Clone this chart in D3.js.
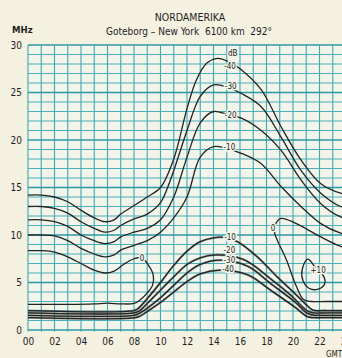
<!DOCTYPE html>
<html>
<head>
<meta charset="utf-8">
<script src="https://cdn.jsdelivr.net/npm/d3@7"></script>
<style>
  body { margin: 0; background: #f5f1e1; }
  svg { display: block; }
  text { font-family: "DejaVu Sans Condensed", "DejaVu Sans", sans-serif; fill: #1e1e1e; }
</style>
</head>
<body>
<script>
//Width and height
var w = 342;
var h = 358;

// tick labels
var hourTicks = [0, 2, 4, 6, 8, 10, 12, 14, 16, 18, 20, 22, 24];
var mhzTicks = [0, 5, 10, 15, 20, 25, 30];

// upper contours (dB), [hour GMT, MHz]
var upper40 = [[0,14.2],[1,14.2],[2,14.0],[3,13.5],[4,12.6],[5,11.8],[5.8,11.4],[6.5,11.6],[7,12.2],[8,13.1],[9,14.0],[10,15.0],[11,18.0],[12,23.3],[12.7,26.3],[13.5,28.1],[14.3,28.6],[15.2,28.2],[16.1,27.4],[17.6,25.3],[19.1,21.4],[20.6,17.9],[22.1,15.4],[23.6,14.4],[24.5,14.2]];
var upper30 = [[0,13.0],[1,13.0],[2,12.8],[3,12.3],[4,11.4],[5,10.7],[5.8,10.3],[6.5,10.5],[7,11.0],[8,11.7],[9,12.2],[10,13.4],[10.75,15.8],[11.5,18.9],[12,21.0],[13,24.6],[14,25.8],[15,25.6],[16.1,24.9],[17.6,23.5],[19.1,20.3],[20.6,16.8],[22.1,14.4],[23.6,13.0],[24.5,12.8]];
var upper20 = [[0,11.6],[1,11.6],[2,11.4],[3,10.9],[4,10.0],[5,9.4],[5.8,9.1],[6.5,9.3],[7,9.8],[8,10.3],[9,10.7],[10,11.6],[11,14.0],[12,18.2],[13,21.8],[14,23.0],[15,22.7],[16.1,22.3],[17.6,21.0],[19.1,18.9],[20.6,15.8],[22.1,13.3],[23.6,11.9],[24.5,11.6]];
var upper10 = [[0,10.0],[1,10.0],[2,9.9],[3,9.4],[4,8.6],[5,8.0],[5.8,7.7],[6.5,7.9],[7,8.4],[8,8.9],[9,9.4],[10,10.3],[11,11.8],[12,14.0],[13,18.2],[14,19.3],[15,19.1],[16.1,18.6],[17.6,17.5],[19.1,15.1],[20.6,13.0],[22.1,11.2],[23.6,10.2],[24.5,10.0]];

// 0 dB contours (night side) and the +10 dB island
var zeroLeft = [[0,8.35],[1,8.35],[2,8.2],[3,7.7],[4,7.0],[5,6.3],[5.8,6.0],[6.5,6.2],[7.2,6.9],[8,7.5],[8.6,7.6],[9.1,6.8],[9.45,5.8],[9.4,4.7],[9.0,3.9],[8.5,3.2],[8.0,2.8],[7,2.75],[6,2.82],[5,2.75],[3,2.7],[0,2.7]];
var zeroRight = [[24.5,8.6],[23.6,8.8],[22.1,9.8],[20.1,11.3],[19.1,11.75],[18.7,11.2],[18.6,10.3],[18.8,9.5],[19.5,7.4],[20.25,4.6],[20.8,3.2],[21.4,3.0],[22.5,3.0],[24.5,3.0]];
var plus10 = [[21.1,7.45],[20.7,6.4],[20.75,5.2],[21.2,4.4],[21.9,4.3],[22.4,4.9],[22.3,5.7],[21.7,6.6]];

// lower contours (dB)
var lower10 = [[0,2.05],[8.0,2.05],[8.3,2.25],[9,3.3],[10,5.0],[11,6.8],[12,8.3],[13,9.3],[14,9.7],[14.8,9.75],[15.8,9.3],[17.3,7.7],[18.8,5.6],[20.1,3.9],[20.9,2.8],[21.5,2.1],[22.5,2.05],[24.5,2.05]];
var lower20 = [[0,1.8],[8.0,1.8],[8.4,2.0],[9,2.8],[10,4.2],[11,5.6],[12,6.9],[13,7.6],[14.2,7.9],[16.3,7.4],[18.3,5.4],[19.8,3.7],[21.1,2.0],[21.6,1.8],[22.5,1.8],[24.5,1.8]];
var lower30 = [[0,1.55],[8.0,1.55],[8.4,1.75],[9,2.3],[10,3.4],[11,4.7],[12,6.0],[13,6.9],[14.5,7.35],[16.6,6.7],[18.3,4.9],[20.1,3.0],[21.1,1.75],[21.6,1.55],[22.5,1.55],[24.5,1.55]];
var lower40 = [[0,1.3],[8.1,1.3],[8.5,1.5],[9,1.95],[10,2.9],[11,4.0],[12,5.1],[13,5.9],[14.5,6.3],[16.6,5.8],[18.3,4.2],[20.1,2.45],[21.1,1.4],[21.6,1.3],[22.5,1.3],[24.5,1.3]];

var contours = [upper40, upper30, upper20, upper10, zeroLeft, zeroRight, lower10, lower20, lower30, lower40];
var bandLines = [lower10, lower20, lower30, lower40];

// contour labels, [text, hour, MHz]
var contourLabels = [["dB",15.45,29.1],["-40",15.25,27.8],["-30",15.3,25.7],["-20",15.3,22.6],["-10",15.2,19.2],
                     ["-10",15.25,9.75],["-20",15.2,8.4],["-30",15.2,7.4],["-40",15.1,6.4],
                     ["0",8.6,7.6],["0",18.5,10.7],["+10",21.9,6.3]];

var x = d3.scaleLinear().domain([0, 24]).range([28, 346]);
var y = d3.scaleLinear().domain([0, 30]).range([330, 45]);

var svg = d3.select("body")
            .append("svg")
            .attr("width", w)
            .attr("height", h);

svg.append("rect").attr("width", w).attr("height", h).attr("fill", "#f5f1e1");
svg.append("rect")
   .attr("x", x(0)).attr("y", y(30))
   .attr("width", x(24) - x(0)).attr("height", y(0) - y(30))
   .attr("fill", "#f3f4ea");

//Grid
var grid = svg.append("g");
grid.selectAll("line.v")
    .data(d3.range(0, 25))
    .enter()
    .append("line")
    .attr("class", "v")
    .attr("x1", function(d) { return x(d); })
    .attr("x2", function(d) { return x(d); })
    .attr("y1", y(30))
    .attr("y2", y(0) + 1.5)
    .attr("stroke", "#3fa7b2")
    .attr("stroke-width", 1.1);
grid.selectAll("line.hz")
    .data(d3.range(0, 31))
    .enter()
    .append("line")
    .attr("class", "hz")
    .attr("x1", x(0))
    .attr("x2", x(24))
    .attr("y1", function(d) { return y(d); })
    .attr("y2", function(d) { return y(d); })
    .attr("stroke", function(d) { return d % 5 == 0 ? "#2c98a4" : "#4aafb9"; })
    .attr("stroke-width", function(d) { return d % 5 == 0 ? 1.5 : 1; });

//Axes
var xAxis = d3.axisBottom(x).tickValues(hourTicks).tickSize(0).tickPadding(8)
              .tickFormat(d3.format("02d"));
var yAxis = d3.axisLeft(y).tickValues(mhzTicks).tickSize(0).tickPadding(6);

var gx = svg.append("g").attr("transform", "translate(0," + y(0) + ")").call(xAxis);
var gy = svg.append("g").attr("transform", "translate(" + x(0) + ",0)").call(yAxis);
[gx, gy].forEach(function(g) {
    g.select(".domain").remove();
    g.selectAll("text")
     .attr("font-family", "DejaVu Sans Condensed, DejaVu Sans, sans-serif")
     .attr("font-size", "10px")
     .attr("fill", "#1e1e1e");
});

//Contours
var line = d3.line()
             .x(function(d) { return x(d[0]); })
             .y(function(d) { return y(d[1]); })
             .curve(d3.curveCatmullRom.alpha(0.5));

// night band of the lower contours, a bit heavier
svg.selectAll("path.band")
   .data(bandLines)
   .enter()
   .append("path")
   .attr("class", "band")
   .attr("d", line)
   .attr("fill", "none")
   .attr("stroke", "#555")
   .attr("stroke-width", 2.2)
   .attr("stroke-opacity", 0.55);

svg.selectAll("path.contour")
   .data(contours)
   .enter()
   .append("path")
   .attr("class", "contour")
   .attr("d", line)
   .attr("fill", "none")
   .attr("stroke", "#232323")
   .attr("stroke-width", 1.3);

svg.append("path")
   .datum(plus10)
   .attr("d", d3.line()
                .x(function(d) { return x(d[0]); })
                .y(function(d) { return y(d[1]); })
                .curve(d3.curveCatmullRomClosed))
   .attr("fill", "none")
   .attr("stroke", "#232323")
   .attr("stroke-width", 1.3);

//Contour labels
svg.selectAll("text.clabel")
   .data(contourLabels)
   .enter()
   .append("text")
   .attr("class", "clabel")
   .text(function(d) { return d[0]; })
   .attr("x", function(d) { return x(d[1]); })
   .attr("y", function(d) { return y(d[2]); })
   .attr("dy", "0.35em")
   .attr("text-anchor", "middle")
   .attr("font-size", "8px")
   .attr("fill", "#333")
   .attr("stroke", "#f3f4ea")
   .attr("stroke-width", 3)
   .attr("paint-order", "stroke");

//Titles
svg.append("text").text("NORDAMERIKA")
   .attr("x", 190).attr("y", 21)
   .attr("text-anchor", "middle").attr("font-size", "10.5px");
svg.append("text").text("Goteborg \u2013 New York  6100 km  292\u00b0")
   .attr("x", 189).attr("y", 35)
   .attr("text-anchor", "middle").attr("font-size", "10px")
   .attr("xml:space", "preserve").style("white-space", "pre");
svg.append("text").text("MHz")
   .attr("x", 12).attr("y", 33)
   .attr("font-size", "9.5px").attr("font-weight", "bold");
svg.append("text").text("GMT")
   .attr("x", 326).attr("y", 357)
   .attr("font-size", "8px");
</script>
</body>
</html>
